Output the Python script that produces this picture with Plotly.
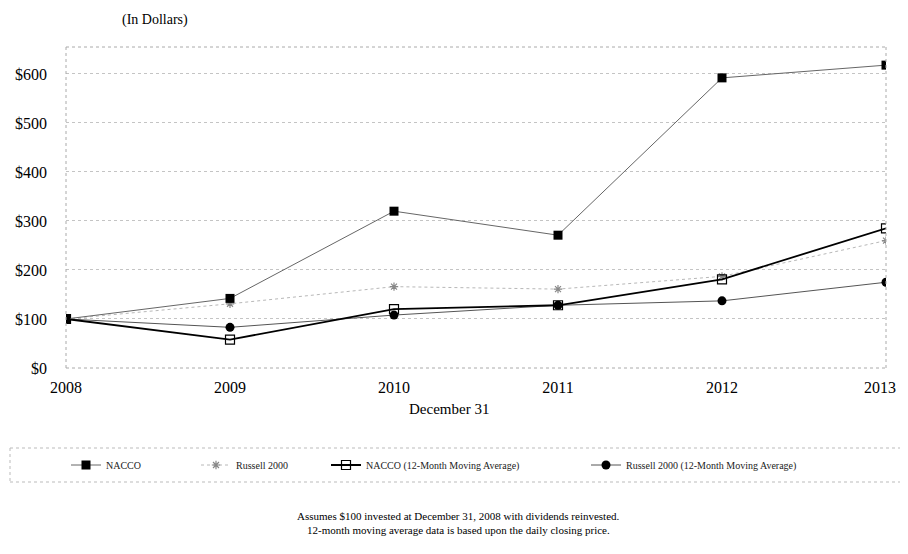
import plotly.graph_objects as go

years = [2008, 2009, 2010, 2011, 2012, 2013]
year_labels = ["2008", "2009", "2010", "2011", "2012", "2013"]
nacco = [100, 142, 320, 271, 592, 618]
russell = [100, 131, 166, 161, 187, 260]
nacco_ma = [100, 58, 120, 128, 181, 285]
russell_ma = [100, 83, 108, 128, 137, 175]
y_ticks = [0, 100, 200, 300, 400, 500, 600]
y_labels = ["$0", "$100", "$200", "$300", "$400", "$500", "$600"]

SERIF = "Liberation Serif, Times New Roman, serif"
OFF = 8  # page body margin
W, H = 908 - OFF, 530
L, T = 66 - OFF, 47 - OFF
R = W - (886 - OFF)
B = H - (368 - OFF)
pw, ph = W - L - R, H - T - B

def px(x):
    return (x - OFF - L) / pw

def py(y):
    return (H - B - (y - OFF)) / ph

# keep the last year label inside the visible page
tick_text = year_labels[:-1] + [year_labels[-1] + "\u00a0\u00a0\u00a0"]

fig = go.Figure()

fig.add_trace(go.Scatter(
    x=years, y=russell, name="Russell 2000", mode="lines+markers",
    line=dict(color="#b8b8b8", width=1, dash="dot"),
    marker=dict(symbol="asterisk", size=7, color="#888", line=dict(color="#888", width=1.2)),
    legend="legend2"))
fig.add_trace(go.Scatter(
    x=years, y=russell_ma, name="Russell 2000 (12-Month Moving Average)", mode="lines+markers",
    line=dict(color="#555", width=1),
    marker=dict(symbol="circle", size=9, color="black"),
    legend="legend4"))
fig.add_trace(go.Scatter(
    x=years, y=nacco_ma, name="NACCO (12-Month Moving Average)", mode="lines+markers",
    line=dict(color="black", width=1.8),
    marker=dict(symbol="square-open", size=9, color="black", line=dict(width=1.2)),
    legend="legend3"))
fig.add_trace(go.Scatter(
    x=years, y=nacco, name="NACCO", mode="lines+markers",
    line=dict(color="#666", width=1),
    marker=dict(symbol="square", size=9, color="black"),
    legend="legend", showlegend=True))

leg_common = dict(orientation="h", bgcolor="rgba(0,0,0,0)", borderwidth=0,
                  font=dict(family=SERIF, size=10, color="#222"),
                  xanchor="left", yanchor="middle", itemwidth=30)
ly = py(465)
fig.update_layout(
    showlegend=True,
    legend=dict(x=px(66), y=ly, **leg_common),
    legend2=dict(x=px(196), y=ly, **leg_common),
    legend3=dict(x=px(326), y=ly, **leg_common),
    legend4=dict(x=px(586), y=ly, **leg_common),
)

fig.update_layout(
    width=W, height=H,
    margin=dict(l=L, r=R, t=T, b=B, autoexpand=False),
    paper_bgcolor="white", plot_bgcolor="white",
    font=dict(family=SERIF, color="black"),
    xaxis=dict(range=[2008, 2013], tickvals=years, ticktext=tick_text,
               showgrid=False, zeroline=False, showline=False, ticks="",
               tickfont=dict(family=SERIF, size=16, color="black"),
               ticklabelstandoff=8, automargin=False),
    yaxis=dict(range=[0, 655], tickvals=y_ticks, ticktext=y_labels,
               showgrid=True, gridcolor="#c4c4c4", griddash="dot", gridwidth=1,
               zeroline=False, showline=False, ticks="",
               tickfont=dict(family=SERIF, size=16, color="black"),
               ticklabelstandoff=18, automargin=False),
)

border = dict(color="#aaa", width=1, dash="dot")
fig.add_shape(type="line", xref="paper", yref="paper", x0=0, x1=1, y0=1, y1=1, line=border)
fig.add_shape(type="line", xref="paper", yref="paper", x0=0, x1=0, y0=0, y1=1, line=border)
fig.add_shape(type="line", xref="paper", yref="paper", x0=1, x1=1, y0=0, y1=1, line=border)
fig.add_shape(type="line", xref="paper", yref="paper", x0=0, x1=1, y0=0, y1=0, line=border)

# legend box (dotted)
lb = dict(color="#bbb", width=1, dash="dot")
fig.add_shape(type="line", xref="paper", yref="paper", x0=px(10), x1=px(900), y0=py(448), y1=py(448), line=lb)
fig.add_shape(type="line", xref="paper", yref="paper", x0=px(10), x1=px(900), y0=py(482), y1=py(482), line=lb)
fig.add_shape(type="line", xref="paper", yref="paper", x0=px(10), x1=px(10), y0=py(448), y1=py(482), line=lb)

fig.add_annotation(text="(In Dollars)", xref="paper", yref="paper", x=px(120), y=py(20),
                   xanchor="left", yanchor="middle", showarrow=False,
                   font=dict(family=SERIF, size=14, color="black"))
fig.add_annotation(text="December 31", xref="paper", yref="paper", x=px(449), y=py(409),
                   xanchor="center", yanchor="middle", showarrow=False,
                   font=dict(family=SERIF, size=15, color="black"))
fig.add_annotation(text="Assumes $100 invested at December 31, 2008 with dividends reinvested.",
                   xref="paper", yref="paper", x=px(458), y=py(516),
                   xanchor="center", yanchor="middle", showarrow=False,
                   font=dict(family=SERIF, size=11, color="black"))
fig.add_annotation(text="12-month moving average data is based upon the daily closing price.",
                   xref="paper", yref="paper", x=px(458), y=py(530),
                   xanchor="center", yanchor="middle", showarrow=False,
                   font=dict(family=SERIF, size=11, color="black"))

fig.write_html("out.html")
